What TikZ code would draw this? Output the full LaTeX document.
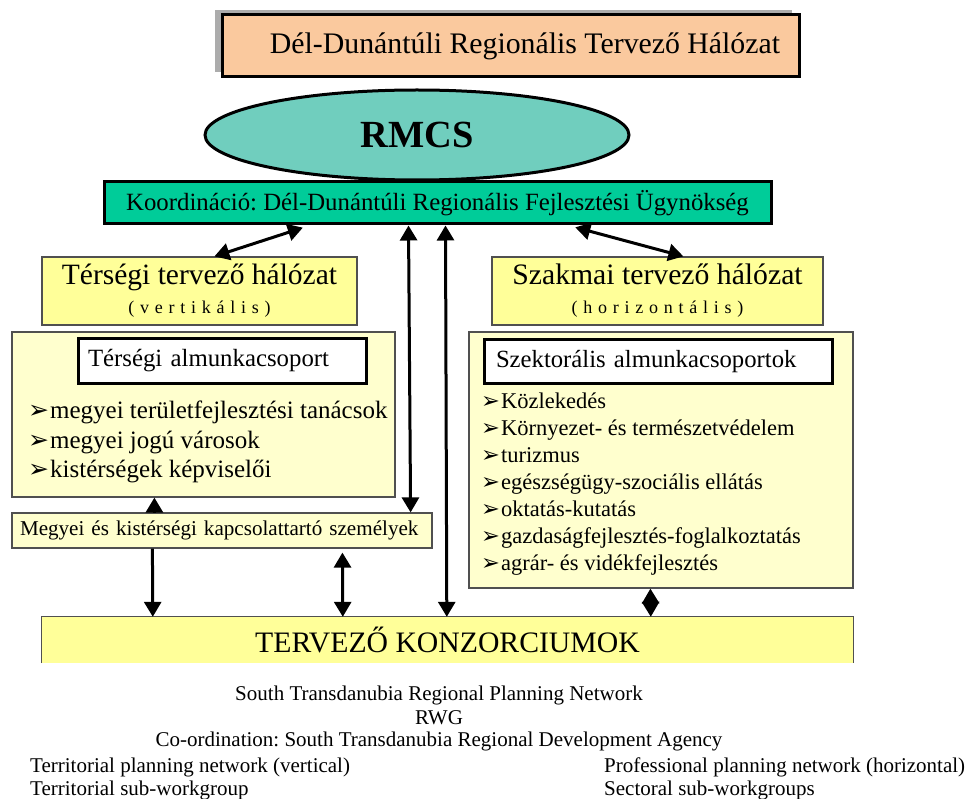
\documentclass[tikz,border=0pt]{standalone}
\usepackage{fontspec}
\setmainfont{Liberation Serif}
\newfontfamily\symfont{DejaVu Sans}
\usepackage{graphicx}
\usepackage{tikz}
\usetikzlibrary{positioning,calc,shapes.geometric,shadows,arrows.meta}

\definecolor{peach}{RGB}{250,201,158}
\definecolor{rmcsteal}{RGB}{112,206,190}
\definecolor{agencygreen}{RGB}{0,204,153}
\definecolor{netyellow}{RGB}{255,255,153}
\definecolor{paleyellow}{RGB}{255,255,206}
\definecolor{edgegray}{RGB}{80,80,80}

\newcommand{\bul}{{\symfont ➢}\hspace{1pt}}
\frenchspacing

\begin{document}
\begin{tikzpicture}[x=1pt, y=-1pt,
    thickbox/.style={draw=black, line width=3pt, inner sep=0pt},
    thinbox/.style={draw=edgegray, line width=1.2pt, inner sep=0pt},
    dlink/.style={line width=3pt, {Triangle[length=15pt,width=17pt]}-{Triangle[length=15pt,width=17pt]}},
    ulink/.style={line width=3pt, -{Triangle[length=15pt,width=17pt]}}]

	\useasboundingbox (0,0) rectangle (974,799);

	% top of the network
	\node[thickbox, fill=peach, minimum width=577pt, minimum height=62pt,
	      drop shadow={shadow xshift=-7pt, shadow yshift=5pt, fill=gray!65, opacity=1},
	      font=\fontsize{29.8}{34}\selectfont] (title) at (510.5,46)
	      {\hspace*{29pt}Dél-Dunántúli Regionális Tervező Hálózat};

	\node[ellipse, thickbox, fill=rmcsteal, minimum width=424pt, minimum height=90pt,
	      font=\fontsize{38.4}{44}\selectfont\bfseries] (rmcs) at (417,135) {RMCS};

	\node[thickbox, fill=agencygreen, minimum width=667pt, minimum height=42pt,
	      font=\fontsize{24.8}{28}\selectfont] (coord) at (437.5,203)
	      {Koordináció: Dél-Dunántúli Regionális Fejlesztési Ügynökség};

	% two planning networks
	\node[thinbox, fill=netyellow, minimum width=315pt, minimum height=68pt, align=center,
	      font=\fontsize{29.5}{31}\selectfont] (tnet) at (199.5,291)
	      {Térségi tervező hálózat\\[-2pt]{\fontsize{18}{20}\selectfont\addfontfeature{LetterSpace=32}(vertikális)}};
	\node[thinbox, fill=netyellow, minimum width=331pt, minimum height=68pt, align=center,
	      font=\fontsize{29.7}{31}\selectfont] (snet) at (657.5,291)
	      {Szakmai tervező hálózat\\[-2pt]{\fontsize{18}{20}\selectfont\addfontfeature{LetterSpace=32}(horizontális)}};

	% left side
	\node[thinbox, fill=paleyellow, minimum width=383pt, minimum height=165pt] (lbox) at (203.5,414.5) {};
	\node[thickbox, fill=white, text width=268pt, inner xsep=10pt, minimum height=44pt, align=left,
	      font=\fontsize{24.8}{28}\selectfont] (lhead) at (222,361) {Térségi almunkacsoport};
	\node[anchor=west, align=left, inner sep=0pt, font=\fontsize{25}{29.5}\selectfont] (llist) at (28,442)
	      {\bul megyei területfejlesztési tanácsok\\
	       \bul megyei jogú városok\\
	       \bul kistérségek képviselői};

	\node[thinbox, fill=paleyellow, text width=404pt, inner xsep=8pt, minimum height=35pt, align=left,
	      font=\fontsize{21.1}{24}\selectfont] (kapcs) at (222,530.5)
	      {Megyei és kistérségi kapcsolattartó személyek};

	% right side
	\node[thinbox, fill=paleyellow, minimum width=384pt, minimum height=256pt] (rbox) at (661,460) {};
	\node[thickbox, fill=white, text width=324pt, inner xsep=12pt, minimum height=43pt, align=left,
	      font=\fontsize{24.7}{28}\selectfont] (rhead) at (658,361.5) {Szektorális almunkacsoportok};
	\node[anchor=west, align=left, inner sep=0pt, font=\fontsize{22.5}{27}\selectfont] (rlist) at (481,484.5)
	      {\bul Közlekedés\\
	       \bul Környezet- és természetvédelem\\
	       \bul turizmus\\
	       \bul egészségügy-szociális ellátás\\
	       \bul oktatás-kutatás\\
	       \bul gazdaságfejlesztés-foglalkoztatás\\
	       \bul agrár- és vidékfejlesztés};

	% consortia, cut off at the bottom
	\node[fill=netyellow, minimum width=811pt, minimum height=46pt, inner sep=0pt,
	      font=\fontsize{29.7}{32}\selectfont] (tk) at (447.5,640) {TERVEZŐ KONZORCIUMOK};
	\draw[edgegray, line width=1.2pt] (tk.south west) -- (tk.north west) -- (tk.north east) -- (tk.south east);

	% connectors
	\draw[dlink, shorten <=7pt] ([xshift=207pt]coord.south west) -- ([xshift=173pt]tnet.north west);
	\draw[dlink, shorten <=7pt] ([xshift=466pt]coord.south west) -- ([xshift=192pt]snet.north west);
	\draw[dlink] ([xshift=-22pt]kapcs.north east) -- ([xshift=306pt]coord.south west);
	\draw[dlink] ([xshift=405pt]tk.north west) -- ([xshift=343pt]coord.south west);
	\draw[ulink] ([xshift=143pt]kapcs.north west) -- ([xshift=143pt]lbox.south west);
	\draw[ulink] ([xshift=141pt]kapcs.south west) -- ([xshift=111pt]tk.north west);
	\draw[dlink, shorten <=4pt] ([xshift=331pt]kapcs.south west) -- ([xshift=301pt]tk.north west);
	\draw[dlink] ([xshift=182pt]rbox.south west) -- ([xshift=609pt]tk.north west);

	% English translation
	\begin{scope}[font=\fontsize{21}{24}\selectfont]
		\node (en1) at (439,695) {South Transdanubia Regional Planning Network};
		\node (en2) at (439,718) {RWG};
		\node (en3) at (439,741) {Co-ordination: South Transdanubia Regional Development Agency};
		\node[anchor=west, inner xsep=0pt] (en4) at (30,767) {Territorial planning network (vertical)};
		\node[anchor=west, inner xsep=0pt] (en5) at (30,790) {Territorial sub-workgroup};
		\node[anchor=west, inner xsep=0pt] (en6) at (604,767) {Professional planning network (horizontal)};
		\node[anchor=west, inner xsep=0pt] (en7) at (604,790) {Sectoral sub-workgroups};
	\end{scope}
\end{tikzpicture}
\end{document}
